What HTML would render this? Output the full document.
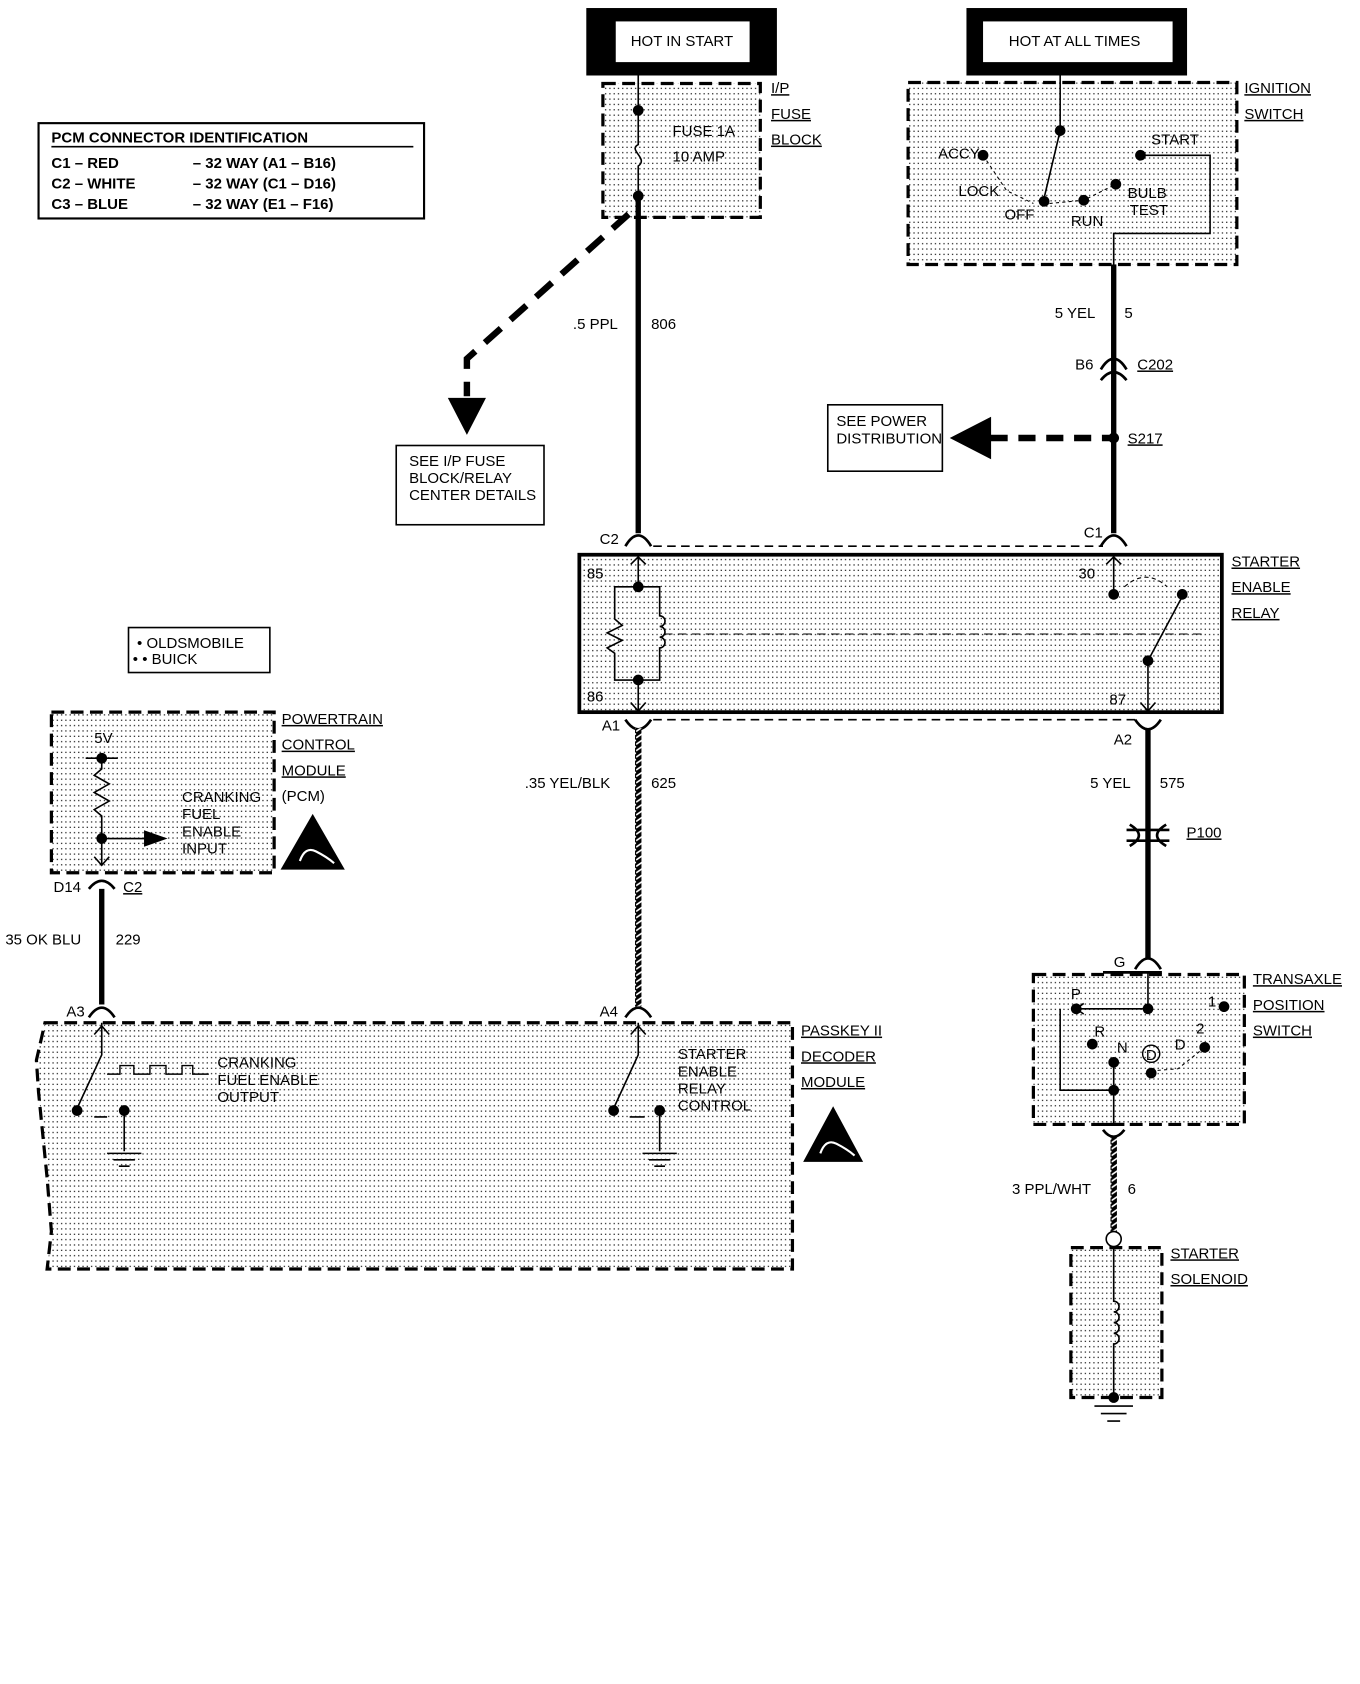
<!DOCTYPE html>
<html><head><meta charset="utf-8"><style>
html,body{margin:0;padding:0;background:#fff}
svg{display:block}
text{font-family:"Liberation Sans",sans-serif;font-size:14px;fill:#000}
.b{font-weight:bold}
</style></head><body>
<svg width="1360" height="1684" viewBox="0 0 1270 1572.5" preserveAspectRatio="none" xmlns="http://www.w3.org/2000/svg">
<defs>
<pattern id="dots" width="4" height="5" patternUnits="userSpaceOnUse"><rect x="1" y="2" width="1.1" height="1.1" fill="#000"/></pattern>
<pattern id="hatch" width="6" height="6" patternUnits="userSpaceOnUse"><rect width="6" height="6" fill="#000"/><path d="M0 5 L6 1" stroke="#fff" stroke-width="1.5"/></pattern>
</defs>
<g fill="none" stroke="#000">
<rect x="548" y="8" width="177" height="62" fill="#000"/>
<rect x="575" y="20" width="125" height="38" fill="#fff" stroke="none"/>
<rect x="903" y="8" width="205" height="62" fill="#000"/>
<rect x="918" y="20" width="177" height="38" fill="#fff" stroke="none"/>
<rect x="36" y="115" width="360" height="89" stroke-width="2"/>
<line x1="48" y1="137" x2="386" y2="137" stroke-width="1.5"/>
<rect x="563" y="78" width="147" height="125" fill="url(#dots)" stroke-width="3" stroke-dasharray="12 6"/>
<rect x="848" y="77" width="307" height="170" fill="url(#dots)" stroke-width="3" stroke-dasharray="12 6"/>
<rect x="541" y="518" width="600" height="147" fill="url(#dots)" stroke-width="3.5"/>
<line x1="610" y1="510" x2="1030" y2="510" stroke-width="1.5" stroke-dasharray="8 5"/>
<line x1="610" y1="672" x2="1060" y2="672" stroke-width="1.5" stroke-dasharray="8 5"/>
<rect x="965" y="910" width="197" height="140" fill="url(#dots)" stroke-width="3" stroke-dasharray="12 6"/>
<rect x="1000" y="1165" width="85" height="140" fill="url(#dots)" stroke-width="3" stroke-dasharray="12 6"/>
<rect x="120" y="586" width="132" height="42" stroke-width="1.5"/>
<rect x="48" y="665" width="208" height="150" fill="url(#dots)" stroke-width="3" stroke-dasharray="12 6"/>
<path d="M42 955 L740 955 L740 1185 L44 1185 L48 1150 L44 1100 L36 1020 L34 990 Z" fill="url(#dots)" stroke-width="3" stroke-dasharray="12 6"/>
<rect x="370" y="416" width="138" height="74" fill="#fff" stroke-width="1.5"/>
<rect x="773" y="378" width="107" height="62" fill="#fff" stroke-width="1.5"/>

<line x1="596" y1="70" x2="596" y2="103" stroke-width="1.5"/>
<path d="M596 103 L596 135 C586 140 606 148 596 155 L596 183" stroke-width="1.5"/>
<line x1="596" y1="183" x2="596" y2="498" stroke-width="5"/>
<path d="M587 200 L436 335 L436 370" stroke-width="6" stroke-dasharray="20 12"/>
<polygon points="419,372 453,372 436,405" fill="#000"/>
<line x1="990" y1="70" x2="990" y2="122" stroke-width="1.5"/>
<line x1="990" y1="122" x2="975" y2="185" stroke-width="1.5"/>
<path d="M918 145 L940 178 L965 190" stroke-width="1" stroke-dasharray="3 3"/>
<path d="M980 190 L1012 187 L1042 172" stroke-width="1" stroke-dasharray="3 3"/>
<path d="M1065 145 L1130 145 L1130 218 L1040 218 L1040 247" stroke-width="1.5"/>
<line x1="1040" y1="247" x2="1040" y2="498" stroke-width="5"/>
<path d="M1028 345 Q1040 325 1052 345 M1028 355 Q1040 340 1052 355" stroke-width="2.5"/>
<line x1="925" y1="409" x2="1040" y2="409" stroke-width="6" stroke-dasharray="16 10"/>
<polygon points="888,409 925,390 925,428" fill="#000"/>
<path d="M584 510 Q596 490 608 510 M1028 510 Q1040 490 1052 510" stroke-width="2.5"/>
<path d="M584 672 Q596 690 608 672 M1060 672 Q1072 690 1084 672" stroke-width="2.5"/>
<path d="M596 518 L596 548 M596 635 L596 665" stroke-width="1.5"/>
<path d="M589 527 L596 520 L603 527 M589 656 L596 664 L603 656" stroke-width="1.5"/>
<path d="M596 548 L616 548 L616 575 a5 5 0 0 1 0 10 a5 5 0 0 1 0 10 a5 5 0 0 1 0 10 L616 635 L574 635 L574 610 L567 605 L581 598 L567 591 L581 584 L574 578 L574 548 L596 548" stroke-width="1.5"/>
<line x1="620" y1="592" x2="1125" y2="592" stroke-width="1" stroke-dasharray="8 5"/>
<path d="M1040 518 L1040 552" stroke-width="1.5"/>
<path d="M1033 527 L1040 520 L1047 527" stroke-width="1.5"/>
<path d="M1050 548 Q1070 530 1090 548" stroke-width="1" stroke-dasharray="4 3"/>
<path d="M1072 617 L1104 557 M1072 617 L1072 665 M1065 656 L1072 664 L1079 656" stroke-width="1.5"/>
<line x1="596" y1="680" x2="596" y2="940" stroke="url(#hatch)" stroke-width="6"/>
<line x1="1072" y1="680" x2="1072" y2="895" stroke-width="5"/>
<path d="M1052 775 L1092 775 M1052 785 L1092 785 M1055 770 Q1072 780 1055 790 M1089 770 Q1072 780 1089 790" stroke-width="2.5"/>
<path d="M1060 905 Q1072 885 1084 905" stroke-width="2.5"/>
<line x1="1030" y1="908" x2="1085" y2="908" stroke-width="2.5"/>
<path d="M1072 908 L1072 942 L1005 942 M1012 937 L1005 942 L1012 947" stroke-width="1.5"/>
<path d="M990 942 L990 1018 L1040 1018 L1040 990 M1040 1018 L1040 1050" stroke-width="1.5"/>
<path d="M1075 1000 L1100 998 L1125 978" stroke-width="1" stroke-dasharray="3 3"/>
<circle cx="1075" cy="984" r="8" stroke-width="1.3"/>
<path d="M1030 1050 L1050 1050" stroke-width="3"/>
<path d="M1030 1055 Q1040 1068 1050 1055" stroke-width="2.5"/>
<line x1="1040" y1="1062" x2="1040" y2="1150" stroke="url(#hatch)" stroke-width="6"/>
<circle cx="1040" cy="1157" r="7" fill="#fff" stroke-width="1.5"/>
<path d="M1040 1164 L1040 1215 a5 5 0 0 1 0 10 a5 5 0 0 1 0 10 a5 5 0 0 1 0 10 a5 5 0 0 1 0 10 L1040 1305" stroke-width="1.5"/>
<path d="M1022 1313 L1058 1313 M1028 1320 L1052 1320 M1034 1327 L1046 1327" stroke-width="1.5"/>
<path d="M80 708 L110 708 M95 708 L95 718 L88 724 L102 732 L88 740 L102 748 L88 756 L95 762 L95 808 M95 783 L135 783" stroke-width="1.5"/>
<polygon points="135,776 155,783 135,790" fill="#000"/>
<path d="M88 800 L95 808 L102 800" stroke-width="1.5"/>
<path d="M83 830 Q95 815 107 830" stroke-width="2.5"/>
<line x1="95" y1="830" x2="95" y2="938" stroke-width="5"/>
<path d="M83 950 Q95 932 107 950 M584 950 Q596 932 608 950" stroke-width="2.5"/>
<path d="M95 955 L95 985 L72 1035 M88 966 L95 958 L102 966" stroke-width="1.5"/>
<path d="M88 1043 L100 1043 M116 1035 L116 1075 M100 1077 L132 1077 M106 1083 L126 1083 M111 1089 L121 1089" stroke-width="1.5"/>
<path d="M100 1003 L112 1003 L112 995 L125 995 L125 1003 L140 1003 L140 995 L155 995 L155 1003 L170 1003 L170 995 L180 995 L180 1003 L195 1003" stroke-width="1.3"/>
<path d="M596 955 L596 985 L573 1035 M589 966 L596 958 L603 966" stroke-width="1.5"/>
<path d="M588 1043 L602 1043 M616 1035 L616 1075 M600 1077 L632 1077 M606 1083 L626 1083 M611 1089 L621 1089" stroke-width="1.5"/>
</g>
<g fill="#000">
<circle cx="596" cy="103" r="5"/><circle cx="596" cy="183" r="5"/>
<circle cx="990" cy="122" r="5"/><circle cx="918" cy="145" r="5"/><circle cx="975" cy="188" r="5"/>
<circle cx="1012" cy="187" r="5"/><circle cx="1042" cy="172" r="5"/><circle cx="1065" cy="145" r="5"/>
<circle cx="1040" cy="409" r="5"/>
<circle cx="596" cy="548" r="5"/><circle cx="596" cy="635" r="5"/>
<circle cx="1040" cy="555" r="5"/><circle cx="1104" cy="555" r="5"/><circle cx="1072" cy="617" r="5"/>
<circle cx="1005" cy="942" r="5"/><circle cx="1072" cy="942" r="5"/><circle cx="1143" cy="940" r="5"/>
<circle cx="1020" cy="975" r="5"/><circle cx="1040" cy="992" r="5"/><circle cx="1075" cy="1002" r="5"/><circle cx="1125" cy="978" r="5"/><circle cx="1040" cy="1018" r="5"/>
<circle cx="1040" cy="1305" r="5"/>
<circle cx="95" cy="708" r="5"/><circle cx="95" cy="783" r="5"/>
<circle cx="72" cy="1037" r="5"/><circle cx="116" cy="1037" r="5"/>
<circle cx="573" cy="1037" r="5"/><circle cx="616" cy="1037" r="5"/>
<polygon points="262,812 292,760 322,812"/>
<polygon points="750,1085 778,1033 806,1085"/>
</g>
<g fill="none" stroke="#fff" stroke-width="2">
<path d="M280 804 Q285 790 295 795 Q305 800 312 806"/>
<path d="M766 1077 Q771 1063 781 1068 Q791 1073 798 1079"/>
</g>
<g>
<text x="589" y="43">HOT IN START</text>
<text x="942" y="43">HOT AT ALL TIMES</text>
<text x="48" y="133" class="b" font-size="16">PCM CONNECTOR IDENTIFICATION</text>
<text x="48" y="157" class="b" font-size="16">C1 – RED</text><text x="180" y="157" class="b" font-size="16">– 32 WAY (A1 – B16)</text>
<text x="48" y="176" class="b" font-size="16">C2 – WHITE</text><text x="180" y="176" class="b" font-size="16">– 32 WAY (C1 – D16)</text>
<text x="48" y="195" class="b" font-size="16">C3 – BLUE</text><text x="180" y="195" class="b" font-size="16">– 32 WAY (E1 – F16)</text>
<text x="720" y="87" text-decoration="underline">I/P</text>
<text x="720" y="111" text-decoration="underline">FUSE</text>
<text x="720" y="135" text-decoration="underline">BLOCK</text>
<text x="628" y="127">FUSE 1A</text><text x="628" y="151">10 AMP</text>
<text x="1162" y="87" text-decoration="underline">IGNITION</text>
<text x="1162" y="111" text-decoration="underline">SWITCH</text>
<text x="876" y="148" font-size="13">ACCY</text><text x="895" y="183" font-size="13">LOCK</text>
<text x="938" y="205" font-size="13">OFF</text><text x="1000" y="211" font-size="13">RUN</text>
<text x="1053" y="185" font-size="13">BULB</text><text x="1055" y="201" font-size="13">TEST</text>
<text x="1075" y="135" font-size="13">START</text>
<text x="535" y="307">.5 PPL</text><text x="608" y="307">806</text>
<text x="382" y="435" font-size="13">SEE I/P FUSE</text><text x="382" y="451" font-size="13">BLOCK/RELAY</text><text x="382" y="467" font-size="13">CENTER DETAILS</text>
<text x="985" y="297">5 YEL</text><text x="1050" y="297">5</text>
<text x="1004" y="345">B6</text><text x="1062" y="345" text-decoration="underline">C202</text>
<text x="1053" y="414" text-decoration="underline">S217</text>
<text x="781" y="398" font-size="13">SEE POWER</text><text x="781" y="414" font-size="13">DISTRIBUTION</text>
<text x="560" y="508">C2</text><text x="1012" y="502">C1</text>
<text x="548" y="540">85</text><text x="548" y="655">86</text>
<text x="1007" y="540">30</text><text x="1036" y="658">87</text>
<text x="1150" y="529" text-decoration="underline">STARTER</text>
<text x="1150" y="553" text-decoration="underline">ENABLE</text>
<text x="1150" y="577" text-decoration="underline">RELAY</text>
<text x="562" y="682">A1</text><text x="1040" y="695">A2</text>
<text x="490" y="736">.35 YEL/BLK</text><text x="608" y="736">625</text>
<text x="1018" y="736">5 YEL</text><text x="1083" y="736">575</text>
<text x="1108" y="782" text-decoration="underline">P100</text>
<text x="1040" y="903">G</text>
<text x="1170" y="919" text-decoration="underline">TRANSAXLE</text>
<text x="1170" y="943" text-decoration="underline">POSITION</text>
<text x="1170" y="967" text-decoration="underline">SWITCH</text>
<text x="1000" y="933" font-size="13">P</text><text x="1128" y="940" font-size="13">1</text>
<text x="1022" y="968" font-size="13">R</text><text x="1117" y="965" font-size="13">2</text>
<text x="1043" y="983" font-size="13">N</text><text x="1070" y="990" font-size="12">D</text><text x="1097" y="980" font-size="13">D</text>
<text x="945" y="1115">3 PPL/WHT</text><text x="1053" y="1115">6</text>
<text x="1093" y="1175" text-decoration="underline">STARTER</text>
<text x="1093" y="1199" text-decoration="underline">SOLENOID</text>
<text x="128" y="605" font-size="13">• OLDSMOBILE</text><text x="124" y="620" font-size="13">• • BUICK</text>
<text x="263" y="676" text-decoration="underline">POWERTRAIN</text>
<text x="263" y="700" text-decoration="underline">CONTROL</text>
<text x="263" y="724" text-decoration="underline">MODULE</text>
<text x="263" y="748">(PCM)</text>
<text x="88" y="694" font-size="13">5V</text>
<text x="170" y="749" font-size="13">CRANKING</text><text x="170" y="765" font-size="13">FUEL</text>
<text x="170" y="781" font-size="13">ENABLE</text><text x="170" y="797" font-size="13">INPUT</text>
<text x="50" y="833">D14</text><text x="115" y="833" text-decoration="underline">C2</text>
<text x="5" y="882">35 OK BLU</text><text x="108" y="882">229</text>
<text x="62" y="949">A3</text><text x="560" y="949">A4</text>
<text x="748" y="967" text-decoration="underline">PASSKEY II</text>
<text x="748" y="991" text-decoration="underline">DECODER</text>
<text x="748" y="1015" text-decoration="underline">MODULE</text>
<text x="203" y="997" font-size="13">CRANKING</text><text x="203" y="1013" font-size="13">FUEL ENABLE</text><text x="203" y="1029" font-size="13">OUTPUT</text>
<text x="633" y="989" font-size="13">STARTER</text><text x="633" y="1005" font-size="13">ENABLE</text>
<text x="633" y="1021" font-size="13">RELAY</text><text x="633" y="1037" font-size="13">CONTROL</text>
</g>
</svg>
</body></html>
